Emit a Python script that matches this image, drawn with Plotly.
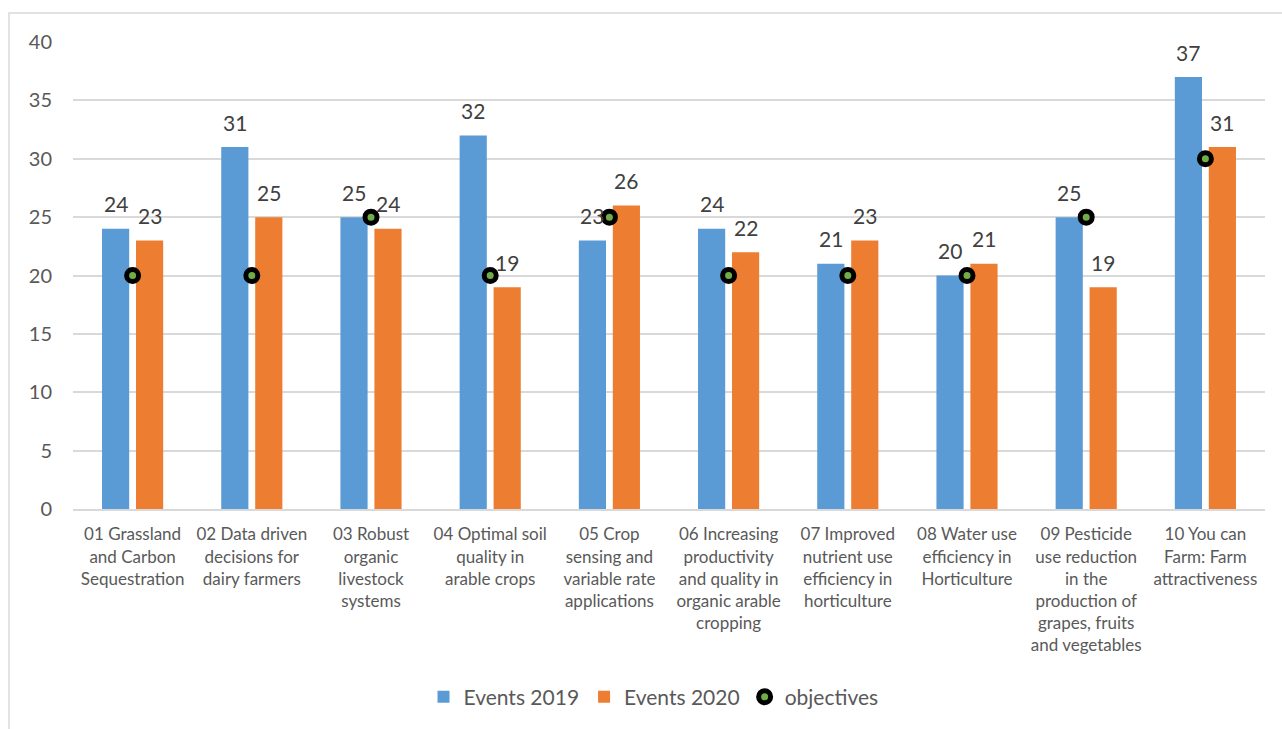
import plotly.graph_objects as go

# Work packages and event counts per year
categories = [
    "01 Grassland<br>and Carbon<br>Sequestration",
    "02 Data driven<br>decisions for<br>dairy farmers",
    "03 Robust<br>organic<br>livestock<br>systems",
    "04 Optimal soil<br>quality in<br>arable crops",
    "05 Crop<br>sensing and<br>variable rate<br>applications",
    "06 Increasing<br>productivity<br>and quality in<br>organic arable<br>cropping",
    "07 Improved<br>nutrient use<br>efficiency in<br>horticulture",
    "08 Water use<br>efficiency in<br>Horticulture",
    "09 Pesticide<br>use reduction<br>in the<br>production of<br>grapes, fruits<br>and vegetables",
    "10 You can<br>Farm: Farm<br>attractiveness",
]
events_2019 = [24, 31, 25, 32, 23, 24, 21, 20, 25, 37]
events_2020 = [23, 25, 24, 19, 26, 22, 23, 21, 19, 31]
objectives = [20, 20, 25, 20, 25, 20, 20, 20, 25, 30]

BLUE = "#5B9BD5"
ORANGE = "#ED7D31"
GREEN = "#70AD47"
GRID = "#D9D9D9"
TEXT = "#595959"
FONT = "Lato, Open Sans, sans-serif"

fig = go.Figure()
fig.add_trace(go.Bar(name="Events 2019", x=categories, y=events_2019,
                     marker=dict(color=BLUE, line=dict(width=0))))
fig.add_trace(go.Bar(name="Events 2020", x=categories, y=events_2020,
                     marker=dict(color=ORANGE, line=dict(width=0))))
fig.add_trace(go.Scatter(name="objectives", x=categories, y=objectives, mode="markers",
                         marker=dict(color=GREEN, size=12,
                                     line=dict(color="black", width=5))))

# Value labels above each bar
annotations = []
for series, shift in ((events_2019, -17), (events_2020, 17)):
    for cat, val in zip(categories, series):
        annotations.append(dict(
            x=cat, y=val, xref="x", yref="y", text=str(val), showarrow=False,
            xshift=shift, yshift=25, yanchor="middle",
            font=dict(family=FONT, size=21, color="#404040")))

fig.update_layout(
    width=1282, height=729,
    margin=dict(l=73, r=17, t=42, b=219),
    paper_bgcolor="white", plot_bgcolor="white",
    barmode="group", bargap=0.43, bargroupgap=0.2,
    font=dict(family=FONT, color=TEXT),
    showlegend=True,
    legend=dict(orientation="h", x=0.487, xanchor="center", y=-0.40, yanchor="middle",
                font=dict(family=FONT, size=21, color=TEXT),
                itemwidth=30, traceorder="normal"),
    annotations=annotations,
    shapes=[dict(type="rect", xref="paper", yref="paper",
                 x0=-0.0537, x1=1.03, y0=-0.55, y1=1.062,
                 line=dict(color=GRID, width=1.5), layer="below")],
)
fig.update_xaxes(range=[-0.5, len(categories) - 0.5],
                 showgrid=False, showline=True, linecolor=GRID, linewidth=2,
                 ticks="", tickfont=dict(family=FONT, size=17, color=TEXT),
                 ticklabelstandoff=9, tickangle=0, automargin=False)
fig.update_yaxes(range=[0, 40], dtick=5, showgrid=True, gridcolor=GRID, gridwidth=2,
                 zeroline=False, showline=False, ticks="",
                 tickfont=dict(family=FONT, size=20, color=TEXT),
                 ticklabelstandoff=20, automargin=False)

fig.write_html("out.html")
